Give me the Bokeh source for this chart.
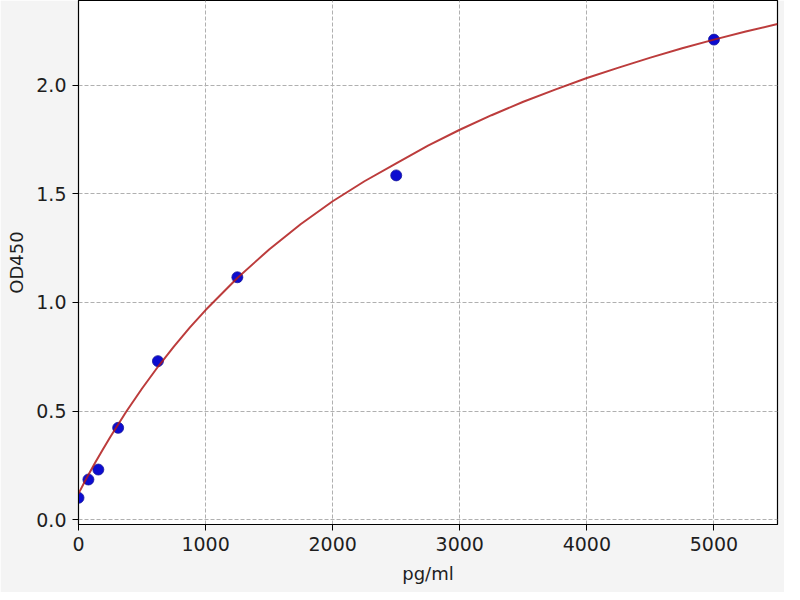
from bokeh.plotting import figure
from bokeh.models import Range1d, FixedTicker, CustomJSTickFormatter
from bokeh.embed import file_html
from bokeh.resources import INLINE

# standard points (concentration in pg/ml, OD450)
conc = [0, 78, 156, 312, 625, 1250, 2500, 5000]
od450 = [0.101, 0.185, 0.231, 0.423, 0.73, 1.116, 1.585, 2.21]

# fitted curve
curve_x = [0, 62, 125, 188, 250, 375, 500, 625, 750, 875, 1000, 1250, 1500, 1750,
           2000, 2250, 2500, 2750, 3000, 3250, 3500, 3750, 4000, 4250, 4500, 4750,
           5000, 5250, 5500]
curve_y = [0.12, 0.19, 0.256, 0.32, 0.381, 0.497, 0.604, 0.704, 0.797, 0.884, 0.965,
           1.113, 1.244, 1.361, 1.466, 1.558, 1.64, 1.722, 1.795, 1.862, 1.924, 1.98,
           2.033, 2.081, 2.127, 2.17, 2.21, 2.247, 2.282]

x_ticks = [0, 1000, 2000, 3000, 4000, 5000]
y_ticks = [0.0, 0.5, 1.0, 1.5, 2.0]

FONT = "DejaVu Sans"

p = figure(width=784, height=592, output_backend="svg", toolbar_location=None,
           x_range=Range1d(0, 5500), y_range=Range1d(-0.022, 2.39),
           min_border_left=78, min_border_right=7, min_border_top=0, min_border_bottom=68)

p.background_fill_color = "white"
p.border_fill_color = "#f4f4f4"
p.outline_line_color = "black"
p.outline_line_width = 1.2

p.scatter(conc, od450, size=11, fill_color="#0c0cd0", line_color="#1a1a9a", line_width=0.8)
p.line(curve_x, curve_y, line_color="#b01a1a", line_width=2, line_alpha=0.85)

p.xaxis.ticker = FixedTicker(ticks=x_ticks)
p.yaxis.ticker = FixedTicker(ticks=y_ticks)
p.yaxis.formatter = CustomJSTickFormatter(code="return tick.toFixed(1);")

for ax in (p.xaxis, p.yaxis):
    ax.minor_tick_line_color = None
    ax.major_tick_out = 6
    ax.major_tick_in = 0
    ax.major_tick_line_color = "black"
    ax.axis_line_color = "black"
    ax.major_label_text_font = FONT
    ax.major_label_text_font_size = "19px"
    ax.major_label_text_color = "#1e1e1e"
    ax.major_label_standoff = 6
    ax.axis_label_text_font = FONT
    ax.axis_label_text_font_size = "18px"
    ax.axis_label_text_font_style = "normal"
    ax.axis_label_text_color = "#1e1e1e"

p.xaxis.axis_label = "pg/ml"
p.yaxis.axis_label = "OD450"
p.xaxis.axis_label_standoff = 9
p.yaxis.axis_label_standoff = 6

p.xgrid.grid_line_color = "#b0b0b0"
p.ygrid.grid_line_color = "#b0b0b0"
p.xgrid.grid_line_dash = "4 2"
p.ygrid.grid_line_dash = "4 2"
p.xgrid.grid_line_width = 1
p.ygrid.grid_line_width = 1

open("out.html", "w").write(file_html(p, INLINE))
